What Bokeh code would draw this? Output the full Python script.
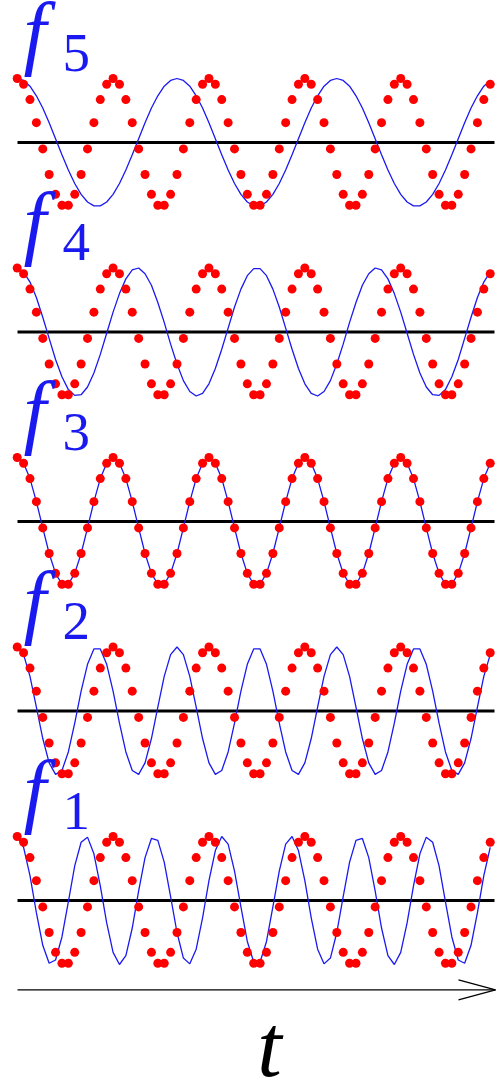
from bokeh.plotting import figure
from bokeh.models import Range1d
from bokeh.embed import file_html
from bokeh.resources import INLINE
from bokeh.core.properties import value

# sample index
n = list(range(75))

# red sampled signal (one period of 15 samples, repeated 5 times)
signal_period = [1.00, 0.91, 0.67, 0.31, -0.10, -0.50, -0.81, -0.98, -0.98, -0.81, -0.50, -0.10, 0.31, 0.67, 0.91]
signal = signal_period * 5

# blue basis functions
f5_period = [1.00, 0.97, 0.88, 0.73, 0.54, 0.31, 0.06, -0.19, -0.43, -0.64, -0.81, -0.93, -0.99,
             -0.99, -0.93, -0.81, -0.64, -0.43, -0.19, 0.06, 0.31, 0.54, 0.73, 0.88, 0.97]
f5 = f5_period * 3

f4 = [1.00, 0.94, 0.78, 0.54, 0.23, -0.10, -0.43, -0.70, -0.90, -0.99, -0.98, -0.86, -0.64, -0.35, -0.02,
      0.31, 0.60, 0.83, 0.97, 1.00, 0.91, 0.73, 0.46, 0.15, -0.19, -0.50, -0.76, -0.93, -1.00, -0.96,
      -0.81, -0.57, -0.27, 0.06, 0.39, 0.67, 0.88, 0.99,
      0.99, 0.88, 0.67, 0.39, 0.06, -0.27, -0.57, -0.81, -0.96, -1.00, -0.93, -0.76, -0.50, -0.19, 0.15,
      0.46, 0.73, 0.91, 1.00, 0.97, 0.83, 0.60, 0.31, -0.02, -0.35, -0.64, -0.86, -0.98, -0.99, -0.90,
      -0.70, -0.43, -0.10, 0.23, 0.54, 0.78, 0.94]

f3 = signal_period * 5

f2_period = [1.00, 0.88, 0.54, 0.06, -0.43, -0.81, -0.99, -0.93, -0.64, -0.19, 0.31, 0.73, 0.97,
             0.97, 0.73, 0.31, -0.19, -0.64, -0.93, -0.99, -0.81, -0.43, 0.06, 0.54, 0.88]
f2 = f2_period * 3

f1 = [1.00, 0.83, 0.39, -0.19, -0.70, -0.98, -0.93, -0.57, -0.02, 0.54, 0.91, 0.99, 0.73, 0.23, -0.35,
      -0.81, -1.00, -0.86, -0.43, 0.15, 0.67, 0.97, 0.94, 0.60, 0.06, -0.50, -0.90, -0.99, -0.76, -0.27,
      0.31, 0.78, 1.00, 0.88, 0.46, -0.10, -0.64, -0.96,
      -0.96, -0.64, -0.10, 0.46, 0.88, 1.00, 0.78, 0.31, -0.27, -0.76, -0.99, -0.90, -0.50, 0.06, 0.60,
      0.94, 0.97, 0.67, 0.15, -0.43, -0.86, -1.00, -0.81, -0.35, 0.23, 0.73, 0.99, 0.91, 0.54, -0.02,
      -0.57, -0.93, -0.98, -0.70, -0.19, 0.39, 0.83]

panel_labels = ["5", "4", "3", "2", "1"]
panel_series = [f5, f4, f3, f2, f1]
axis_label = "t"

# ---- layout (screen-pixel based) ----
PX = 6.392      # pixels per sample
X0 = 16.7       # screen x of sample 0
AMP = 64.0      # pixels per unit amplitude
centers = [142.0, 331.5, 521.0, 710.5, 900.0]
W, H = 496, 1083

def sx(px):
    return (px - X0) / PX

def sy(py):
    return -py / AMP

BLUE = "#1a1af0"
RED = "#ff0000"

p = figure(width=W, height=H,
           x_range=Range1d(sx(0), sx(W)), y_range=Range1d(sy(H), sy(0)),
           output_backend="svg", toolbar_location=None, min_border=0,
           x_axis_type=None, y_axis_type=None)
p.grid.visible = False
p.outline_line_color = None
p.background_fill_color = "white"
p.border_fill_color = "white"

for lab, ser, c in zip(panel_labels, panel_series, centers):
    off = sy(c)
    p.segment(x0=[sx(17)], y0=[off], x1=[sx(494)], y1=[off], line_color="black", line_width=3)
    p.line(n, [off + v for v in ser], line_color=BLUE, line_width=1.3)
    p.scatter(n, [off + v for v in signal], size=9, fill_color=RED, line_color=RED, line_width=0)
    p.text(x=[sx(23)], y=[sy(c - 111)], text=["f"], text_font=value("Liberation Serif"),
           text_font_style="italic", text_font_size="82px", text_color=BLUE,
           text_align="left", text_baseline="alphabetic")
    p.text(x=[sx(62)], y=[sy(c - 90)], text=[lab], text_font=value("Liberation Serif"),
           text_font_size="55px", text_color=BLUE,
           text_align="left", text_baseline="alphabetic")

# time axis arrow
ay = sy(989.3)
p.segment(x0=[sx(17)], y0=[ay], x1=[sx(495)], y1=[ay], line_color="black", line_width=1.3)
p.segment(x0=[sx(458), sx(458)], y0=[sy(979.3), sy(999.3)], x1=[sx(495), sx(495)], y1=[ay, ay],
          line_color="black", line_width=1.3)
p.text(x=[sx(269)], y=[sy(1046)], text=[axis_label], text_font=value("Liberation Serif"),
       text_font_style="italic", text_font_size="88px", text_color="black",
       text_align="center", text_baseline="alphabetic")

open("out.html", "w").write(file_html(p, INLINE))
